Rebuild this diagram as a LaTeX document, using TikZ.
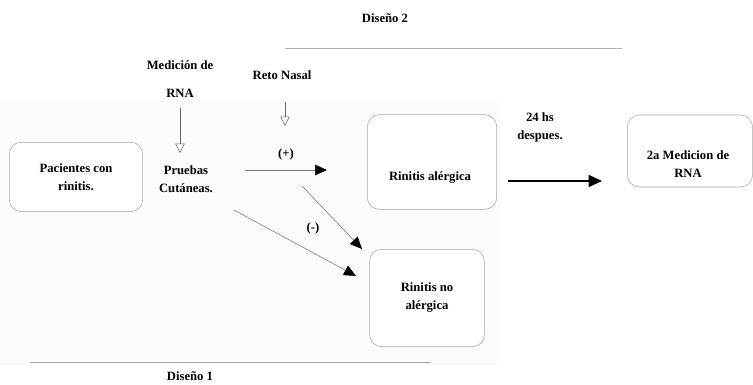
\documentclass[tikz,border=0pt]{standalone}
\usepackage{fontspec}
\setmainfont{Liberation Serif}
\usetikzlibrary{arrows.meta,positioning}
\tikzset{
  rbox/.style={draw=black!35,rounded corners=9pt,fill=white,align=center,font=\bfseries\fontsize{9.5}{13.5}\selectfont},
  lbl/.style={align=center,font=\bfseries\fontsize{9.5}{13.5}\selectfont},
  openarr/.style={draw=black!60,thin,-{Triangle[open,length=7pt,width=7pt]}},
  filarr/.style={draw=black!55,thin,-{Triangle[color=black,length=9pt,width=8pt]}},
}
\begin{document}
\begin{tikzpicture}[x=0.75pt,y=-0.75pt]
  \useasboundingbox (0,0) rectangle (753,385);
  % light background of the first design
  \fill[black!1.5] (0,100) rectangle (500,365);
  % design labels and rules
  \node[lbl] (dis2) at (385,18) {Diseño 2};
  \draw[black!30] (285,48) -- (622,48);
  \draw[black!35] (30,362) -- (430,362);
  \node[lbl] (dis1) at (190,376) {Diseño 1};
  % boxes
  \node[rbox,minimum width=100pt,minimum height=52pt] (pac) at (76,177) {Pacientes con\\ rinitis.};
  \node[lbl] (pru) at (186,179) {Pruebas\\ Cutáneas.};
  \node[rbox,minimum width=97pt,minimum height=71pt] (ale) at (432,162) {};
  \node[lbl] (aletxt) at (430,177) {Rinitis alérgica};
  \node[rbox,minimum width=86pt,minimum height=73pt] (noale) at (427,298) {Rinitis no\\ alérgica};
  \node[rbox,minimum width=94pt,minimum height=54pt] (med2) at (690,151) {};
  \node[lbl] (med2txt) at (688,164) {2a Medicion de\\ RNA};
  % top labels
  \node[lbl] (med) at (180,79) {Medición de\\[8pt] RNA};
  \node[lbl] (reto) at (282,75) {Reto Nasal};
  % connectors
  \coordinate (m0) at (180,108);
  \coordinate (m1) at (180,153);
  \coordinate (r0) at (285,102);
  \coordinate (r1) at (285,126);
  \draw[openarr] (m0) -- (m1);
  \draw[openarr] (r0) -- (r1);
  \coordinate (p0) at (245,170);
  \coordinate (p1) at (327,170);
  \draw[filarr] (p0) -- (p1) node[lbl,midway,above=4pt] (pos) {(+)};
  \coordinate (a0) at (302,186);
  \coordinate (a1) at (362,249);
  \draw[filarr] (a0) -- (a1);
  \coordinate (b0) at (234,210);
  \coordinate (b1) at (356,276);
  \draw[filarr] (b0) -- (b1);
  \node[lbl] (neg) at (313,228) {(-)};
  \coordinate (h0) at (508,181);
  \coordinate (h1) at (602,181);
  \draw[thick,-{Triangle[length=10pt,width=9pt]}] (h0) -- (h1);
  \node[lbl] (hs) at (540,127) {24 hs\\ despues.};
\end{tikzpicture}
\end{document}
